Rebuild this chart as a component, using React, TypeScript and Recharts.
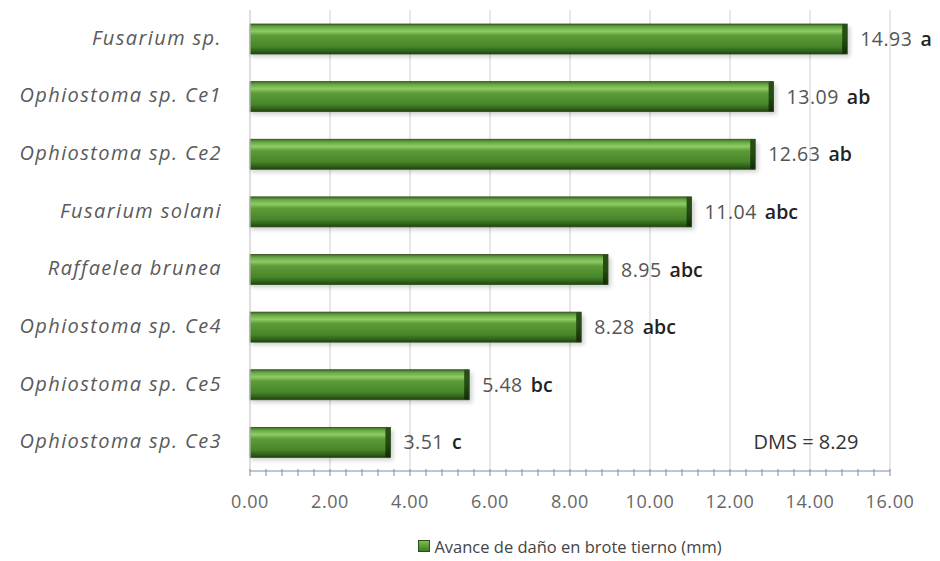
import React from 'react';
import {
  BarChart,
  Bar,
  XAxis,
  YAxis,
  CartesianGrid,
  Legend,
  LabelList,
  ReferenceDot,
} from 'recharts';

// Avance de daño por aislamiento (mm), con letras de agrupación de medias
const CATEGORIES = [
  'Fusarium sp.',
  'Ophiostoma sp. Ce1',
  'Ophiostoma sp. Ce2',
  'Fusarium solani',
  'Raffaelea brunea',
  'Ophiostoma sp. Ce4',
  'Ophiostoma sp. Ce5',
  'Ophiostoma sp. Ce3',
];
const DAMAGE = [14.93, 13.09, 12.63, 11.04, 8.95, 8.28, 5.48, 3.51];
const GROUPS = ['a', 'ab', 'ab', 'abc', 'abc', 'abc', 'bc', 'c'];

const MAJOR_TICKS = [0, 2, 4, 6, 8, 10, 12, 14, 16];
const MINOR_STEP = 0.4;
const MINOR_TICKS = Array.from({ length: 41 }, (_, i) => +(i * MINOR_STEP).toFixed(1));

const DMS_LABEL = 'DMS = 8.29';
const SERIES_NAME = 'Avance de daño en brote tierno (mm)';

const FONT = '"Open Sans", sans-serif';

const data = CATEGORIES.map((name, i) => ({ name, value: DAMAGE[i], group: GROUPS[i] }));

function CategoryTick({ x, y, payload }: any) {
  return (
    <text
      x={x}
      y={y}
      dy={6}
      textAnchor="end"
      fontFamily={FONT}
      fontStyle="italic"
      fontSize={20}
      letterSpacing={1.4}
      fill="#5a5a5a"
    >
      {payload.value}
    </text>
  );
}

function ValueTick({ x, y, payload }: any) {
  const v = payload.value as number;
  const major = MAJOR_TICKS.includes(v);
  return (
    <g>
      <line x1={x} x2={x} y1={y - 2} y2={y + 5} stroke="#7d8da3" strokeWidth={1} />
      {major && (
        <text
          x={x}
          y={y + 37}
          textAnchor="middle"
          fontFamily={FONT}
          fontSize={18}
          letterSpacing={0.6}
          fill="#666"
        >
          {v.toFixed(2)}
        </text>
      )}
    </g>
  );
}

function GreenBar({ x, y, width, height }: any) {
  if (!width || width <= 0) return null;
  return (
    <g>
      <rect x={x + 1} y={y + 3} width={width + 2} height={height} fill="#000" opacity={0.18} filter="url(#soft)" />
      <rect x={x} y={y} width={width} height={height} fill="url(#barGrad)" />
      <rect x={x + width - 5} y={y} width={5} height={height} fill="url(#capGrad)" />
      <rect x={x} y={y} width={width} height={height} fill="none" stroke="#2b4f18" strokeWidth={0.8} />
    </g>
  );
}

function ValueLabel({ x, y, width, height, index }: any) {
  const d = data[index];
  return (
    <text x={x + width + 13} y={y + height / 2} dy={7} fontFamily={FONT} fontSize={19.5}>
      <tspan fill="#555" letterSpacing={0.5}>
        {d.value.toFixed(2)}
      </tspan>
      <tspan dx={8} fill="#222" fontWeight={600}>
        {d.group}
      </tspan>
    </text>
  );
}

function LegendBox() {
  return (
    <div
      style={{
        height: 30,
        display: 'flex',
        justifyContent: 'center',
        alignItems: 'center',
        fontFamily: FONT,
        fontSize: 16.5,
        color: '#444',
        paddingLeft: 250,
        boxSizing: 'border-box',
      }}
    >
      <span
        style={{
          width: 10,
          height: 10,
          marginRight: 4,
          background: 'linear-gradient(#7cc04a, #3d7a22)',
          border: '1px solid #2b4f18',
        }}
      />
      {SERIES_NAME}
    </div>
  );
}

export default function App() {
  return (
    <div style={{ position: 'absolute', left: 0, top: 0, background: '#fff' }}>
      <BarChart
        width={940}
        height={561}
        data={data}
        layout="vertical"
        margin={{ top: 10, right: 50, left: 0, bottom: 0 }}
        barSize={30}
      >
        <defs>
          <linearGradient id="barGrad" x1="0" y1="0" x2="0" y2="1">
            <stop offset="0%" stopColor="#3f6e25" />
            <stop offset="10%" stopColor="#6aa844" />
            <stop offset="24%" stopColor="#8fcc66" />
            <stop offset="38%" stopColor="#5e9c38" />
            <stop offset="75%" stopColor="#47862a" />
            <stop offset="92%" stopColor="#2d5c17" />
            <stop offset="100%" stopColor="#1f3f10" />
          </linearGradient>
          <linearGradient id="capGrad" x1="0" y1="0" x2="0" y2="1">
            <stop offset="0%" stopColor="#2a4d17" />
            <stop offset="50%" stopColor="#244d12" />
            <stop offset="100%" stopColor="#132a08" />
          </linearGradient>
          <filter id="soft" x="-5%" y="-30%" width="110%" height="160%">
            <feGaussianBlur stdDeviation="2" />
          </filter>
        </defs>
        <CartesianGrid horizontal={false} verticalValues={MAJOR_TICKS} stroke="#cfcfcf" />
        <XAxis
          type="number"
          domain={[0, 16]}
          ticks={MINOR_TICKS}
          interval={0}
          tick={<ValueTick />}
          tickLine={false}
          tickSize={0}
          tickMargin={0}
          axisLine={{ stroke: '#7d8da3' }}
          height={60}
        />
        <YAxis
          type="category"
          dataKey="name"
          width={250}
          tick={<CategoryTick />}
          tickLine={false}
          tickMargin={22}
          axisLine={{ stroke: '#d6d6d6' }}
        />
        <Legend verticalAlign="bottom" content={<LegendBox />} />
        <Bar dataKey="value" name={SERIES_NAME} shape={<GreenBar />} isAnimationActive={false}>
          <LabelList dataKey="value" content={<ValueLabel />} />
        </Bar>
        <ReferenceDot
          x={13.9}
          y="Ophiostoma sp. Ce3"
          r={0}
          stroke="none"
          label={{ value: DMS_LABEL, position: 'center', fill: '#333', fontSize: 20, fontFamily: FONT }}
        />
      </BarChart>
    </div>
  );
}
